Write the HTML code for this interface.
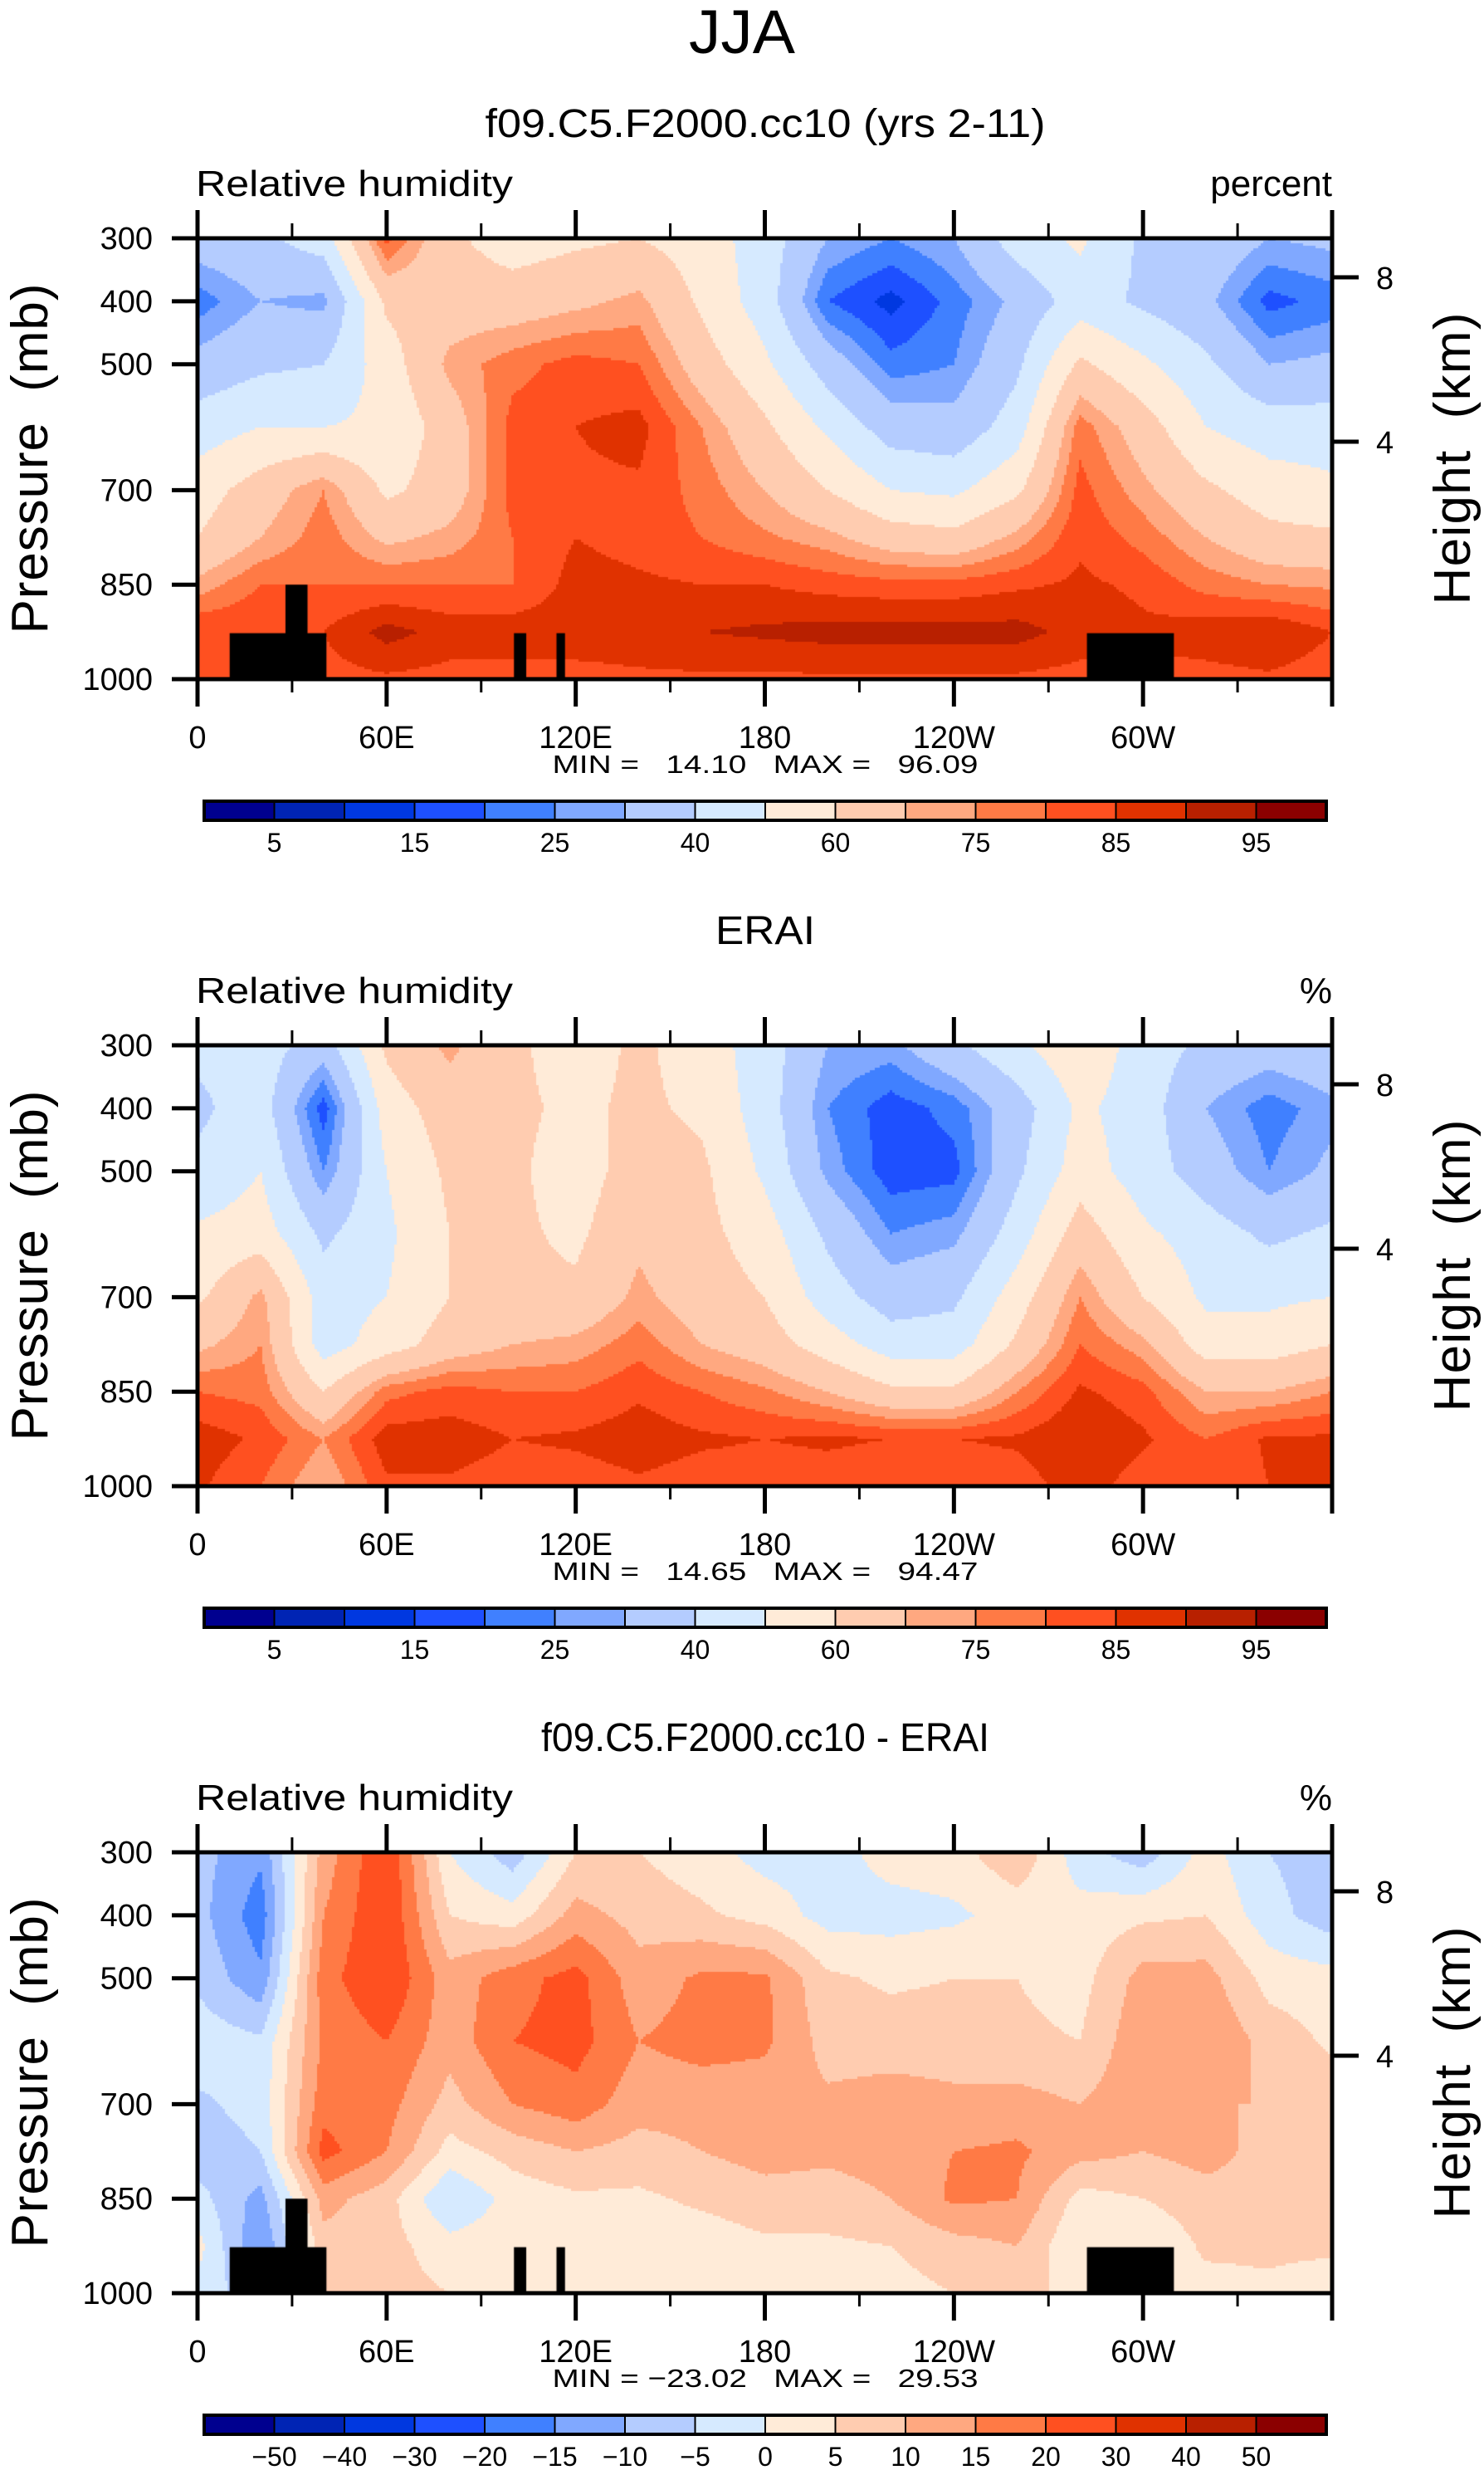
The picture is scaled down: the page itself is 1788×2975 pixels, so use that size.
<!DOCTYPE html>
<html><head><meta charset="utf-8">
<style>
html,body{margin:0;padding:0;background:#fff;}
#root{position:relative;width:1788px;height:2975px;overflow:hidden;font-family:"Liberation Sans",sans-serif;}
canvas{position:absolute;}
svg{position:absolute;left:0;top:0;}
text{font-family:"Liberation Sans",sans-serif;fill:#000;white-space:pre;}
</style></head>
<body>
<div id="root">
<canvas id="c0" width="1367" height="531" style="left:238px;top:287px"></canvas>
<canvas id="c1" width="1367" height="531" style="left:238px;top:1259px"></canvas>
<canvas id="c2" width="1367" height="531" style="left:238px;top:2231px"></canvas>
<svg id="ov" width="1788" height="2975">
<text x="894" y="64" font-size="74" text-anchor="middle" textLength="128" lengthAdjust="spacingAndGlyphs">JJA</text>
</svg>
</div>
<script>
const lons=[0,20,40,60,80,100,120,140,160,180,200,220,240,260,280,300,320,340,360];
const levels=[300,400,500,600,700,775,850,925,1000];
// columns: one per longitude, values per pressure level (300..1000)
const rhModel=[
[35,22,33,45,55,60,72,85,82],[38,30,38,50,65,70,80,85,83],[45,28,40,50,75,78,80,85,83],
[82,62,55,52,58,68,80,92,84],[62,65,72,65,65,72,80,88,83],[55,65,78,82,82,80,80,88,83],
[58,68,82,85,84,85,87,88,83],[60,72,80,87,84,83,86,88,84],[55,58,65,75,78,80,85,90,84],
[45,45,52,62,70,76,85,91,84],[30,20,35,48,60,72,83,92,84],[25,13,22,35,50,65,82,92,84],
[30,22,25,33,48,63,82,92,84],[45,32,38,45,58,72,84,92,84],[52,45,62,78,82,84,86,88,83],
[38,38,52,65,72,78,84,86,83],[38,32,42,50,62,70,78,88,83],[30,18,30,45,55,63,75,90,84],
[32,22,32,45,52,62,74,85,82]];
const rhErai=[
[42,38,42,52,58,68,80,88,86],[45,45,50,55,72,75,78,84,80],[35,17,25,38,45,45,60,75,70],
[62,55,50,48,50,55,78,88,84],[72,65,62,60,60,65,82,88,84],[62,62,62,62,62,70,80,85,82],
[55,58,55,58,62,72,80,86,82],[62,62,65,68,72,78,84,88,84],[55,58,62,63,65,70,80,86,82],
[45,45,48,55,60,65,76,85,82],[30,25,28,38,45,55,70,86,82],[28,17,17,25,35,45,62,85,80],
[38,22,18,28,38,45,62,85,80],[48,35,38,45,55,62,75,86,82],[58,52,55,65,75,80,86,90,88],
[45,45,45,52,60,72,82,86,82],[38,30,35,45,48,55,70,80,80],[35,22,25,38,48,55,70,86,85],
[38,28,32,42,50,60,75,86,85]];
const rhDiff=[
[-8,-8,-6,-2,-6,-8,-3,2,-2],[-14,-18,-14,-4,-3,-5,-12,-15,-8],[12,15,18,16,18,22,12,8,8],
[25,25,25,20,17,15,7,7,7],[0,5,12,12,8,3,-5,2,5],[-8,2,18,20,15,7,2,3,3],
[5,12,22,22,18,10,4,3,2],[5,8,12,15,12,8,4,2,2],[2,6,16,17,12,10,6,2,2],
[-2,3,16,16,12,12,8,4,2],[-2,-2,6,8,11,11,8,4,2],[2,-2,4,8,12,12,10,5,3],
[3,-1,5,8,11,15,16,8,5],[9,2,5,6,12,16,15,10,6],[-3,2,3,5,10,12,3,0,4],
[-8,4,12,14,14,10,5,0,4],[2,5,12,15,10,12,8,6,3],[-5,-3,3,8,10,8,8,6,4],
[-8,-8,2,4,8,6,8,6,2]];
const rhLevels=[5,10,15,20,25,30,40,50,60,70,75,80,85,90,95];
const rhLabels=["5","15","25","40","60","75","85","95"];
const diffLevels=[-50,-40,-30,-20,-15,-10,-5,0,5,10,15,20,30,40,50];
const diffLabels=["\u221250","\u221240","\u221230","\u221220","\u221215","\u221210","\u22125","0","5","10","15","20","30","40","50"];
// land mask boxes: [lon start, lon end, top pressure]
const maskLon0=[10.2,27.9,100.4,113.9,282.2];
const maskLon1=[40.9,34.9,104.3,116.6,309.8];
const maskTop=[927,850,927,927,927];
const xTickLons=[0,60,120,180,240,300];
const xTickLabels=["0","60E","120E","180","120W","60W"];
const pTicks=[300,400,500,700,850,1000];
const hTicks=[8,4];

const colors=['#00008F','#0024B4','#0038E0','#1E50FF','#4080FF','#80A8FF','#B4CCFF','#D6EAFF','#FFEBD8','#FFCCB0','#FFA880','#FF7A45','#FF5020','#E03200','#B82000','#8B0000'];
const X0=238,W=1367,H=531;
const tops=[287,1259,2231];
function xOf(lon){return X0+lon/360*W;}
function yOf(p,top){return top+(p-300)/700*H;}
function idx(arr,v){let i=0;while(i<arr.length-2&&v>arr[i+1])i++;return i;}
function interp(grid,lon,p){
  const i=idx(lons,lon),j=idx(levels,p);
  const tx=(lon-lons[i])/(lons[i+1]-lons[i]);const ty=(p-levels[j])/(levels[j+1]-levels[j]);
  const a=grid[i][j],b=grid[i+1][j],c=grid[i][j+1],d=grid[i+1][j+1];
  return (a*(1-tx)+b*tx)*(1-ty)+(c*(1-tx)+d*tx)*ty;
}
function colorFor(v,lv){let k=0;while(k<lv.length&&v>=lv[k])k++;return colors[k];}
function drawField(id,grid,lv,mask){
  const ctx=document.getElementById(id).getContext('2d');
  const s=3;
  for(let py=0;py<H;py+=s){for(let px=0;px<W;px+=s){
    const lon=(px+s/2)/W*360,p=300+(py+s/2)/H*700;
    ctx.fillStyle=colorFor(interp(grid,lon,p),lv);ctx.fillRect(px,py,s,s);}}
  if(mask){ctx.fillStyle='#000';
    for(let m=0;m<maskLon0.length;m++){
      const x0=xOf(maskLon0[m])-X0,x1=xOf(maskLon1[m])-X0,y0=yOf(maskTop[m],0);
      ctx.fillRect(x0,y0,x1-x0,H-y0);}}
}
drawField('c0',rhModel,rhLevels,true);
drawField('c1',rhErai,rhLevels,false);
drawField('c2',rhDiff,diffLevels,true);

const NS='http://www.w3.org/2000/svg';
const svg=document.getElementById('ov');
function el(tag,attrs,txt){const e=document.createElementNS(NS,tag);for(const k in attrs)e.setAttribute(k,attrs[k]);if(txt!==undefined)e.textContent=txt;svg.appendChild(e);return e;}
function line(x1,y1,x2,y2,w){return el('line',{x1:x1,y1:y1,x2:x2,y2:y2,stroke:'#000','stroke-width':w});}

const titles=["f09.C5.F2000.cc10 (yrs 2-11)","ERAI","f09.C5.F2000.cc10 - ERAI"];
const titleLen=[675,120,540];
const units=["percent","%","%"];
const minmax=["MIN =   14.10   MAX =   96.09","MIN =   14.65   MAX =   94.47","MIN = \u221223.02   MAX =   29.53"];
for(let k=0;k<3;k++){
  const top=tops[k],bot=top+H;
  let t=el('text',{x:922,y:top-122,'font-size':48,'text-anchor':'middle',textLength:titleLen[k],lengthAdjust:'spacingAndGlyphs'},titles[k]);
  
  
  t=el('text',{x:236,y:top-51,'font-size':44,textLength:382,lengthAdjust:'spacingAndGlyphs'},'Relative humidity');
  
  
  t=el('text',{x:1605,y:top-51,'font-size':44,'text-anchor':'end'},units[k]);
  
  
  for(let lon=0;lon<=360;lon+=30){
    const major=lon%60===0,x=xOf(lon);
    let l=line(x,top,x,top-(major?34:18),major?5:3);
    
    
    l=line(x,bot,x,bot+(major?33:16),major?5:3);
    
    
  }
  for(let i=0;i<xTickLons.length;i++){
    t=el('text',{x:xOf(xTickLons[i]),y:bot+83,'font-size':38,'text-anchor':'middle'},xTickLabels[i]);
    
    
  }
  for(let i=0;i<pTicks.length;i++){
    const y=yOf(pTicks[i],top);
    let l=line(X0-31,y,X0,y,5);
    
    
    t=el('text',{x:184,y:y+13,'font-size':38,'text-anchor':'end'},String(pTicks[i]));
    
    
  }
  for(let i=0;i<hTicks.length;i++){
    const y=top+(hTicks[i]===8?47:245);
    let l=line(X0+W,y,X0+W+32,y,5);
    
    
    t=el('text',{x:1658,y:y+14,'font-size':38},String(hTicks[i]));
    
    
  }
  let r=el('rect',{x:X0,y:top,width:W,height:H,fill:'none',stroke:'#000','stroke-width':5});
  
  
  const cy=top+H/2;
  t=el('text',{x:0,y:0,'font-size':62,'text-anchor':'middle',textLength:422,lengthAdjust:'spacing',transform:'translate(57,'+cy+') rotate(-90)'},'Pressure  (mb)');
  
  
  t=el('text',{x:0,y:0,'font-size':62,'text-anchor':'middle',textLength:352,lengthAdjust:'spacing',transform:'translate(1771,'+cy+') rotate(-90)'},'Height  (km)');
  
  
  t=el('text',{x:922,y:bot+113,'font-size':31,'text-anchor':'middle',textLength:513,lengthAdjust:'spacingAndGlyphs'},minmax[k]);
  
  
  const cbY=top+678,cbX=246,cbW=1352,cbH=23,bw=cbW/16;
  for(let c=0;c<16;c++){
    r=el('rect',{x:cbX+c*bw,y:cbY,width:bw,height:cbH,fill:colors[c],stroke:'#000','stroke-width':2});
    
    
  }
  r=el('rect',{x:cbX,y:cbY,width:cbW,height:cbH,fill:'none',stroke:'#000','stroke-width':4});
  
  
  if(k<2){
    for(let i=0;i<rhLabels.length;i++){
      t=el('text',{x:cbX+(1+2*i)*bw,y:cbY+61,'font-size':32,'text-anchor':'middle'},rhLabels[i]);
      
      
    }
  } else {
    for(let i=0;i<diffLabels.length;i++){
      t=el('text',{x:cbX+(1+i)*bw,y:cbY+61,'font-size':32,'text-anchor':'middle'},diffLabels[i]);
      
      
    }
  }
}
</script>
</body></html>
